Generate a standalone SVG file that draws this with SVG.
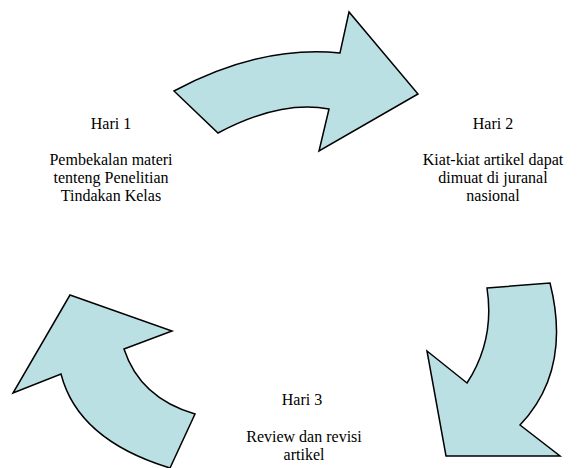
<svg xmlns="http://www.w3.org/2000/svg" width="577" height="468" viewBox="0 0 577 468">
<style>
.arrow{fill:#bbe0e3;stroke:#000;stroke-width:1.5;stroke-linejoin:miter}
text{font-family:"Liberation Serif","Times New Roman",serif;font-size:16px;fill:#000;text-anchor:middle}
</style>
<rect width="577" height="468" fill="#fff"/>
<g id="connectors">
<path id="arrow-top" class="arrow" d="M174,91 Q260,45 340,53 L349,12 L418,94 L319,151 L329,109 Q280,100 218,133 Z"/>
<path id="arrow-right" class="arrow" d="M487,288 L550,283 Q572,370 520,425 L560,456 L446,456 L427,351 L467,383 Q495,340 487,288 Z"/>
<path id="arrow-left" class="arrow" d="M70,295 L172,331 L124,349 Q140,398 195,414 L170,468 Q78,440 61,374 L13,393 Z"/>
</g>
<g id="node-hari1">
<text x="111" y="129">Hari 1</text>
<text x="111" y="165">Pembekalan materi</text>
<text x="111" y="183">tenteng Penelitian</text>
<text x="111" y="201">Tindakan Kelas</text>
</g>
<g id="node-hari2">
<text x="493" y="129">Hari 2</text>
<text x="493" y="165">Kiat-kiat artikel dapat</text>
<text x="493" y="183">dimuat di juranal</text>
<text x="493" y="201">nasional</text>
</g>
<g id="node-hari3">
<text x="302" y="405">Hari 3</text>
<text x="304" y="442">Review dan revisi</text>
<text x="304" y="460">artikel</text>
</g>
</svg>
